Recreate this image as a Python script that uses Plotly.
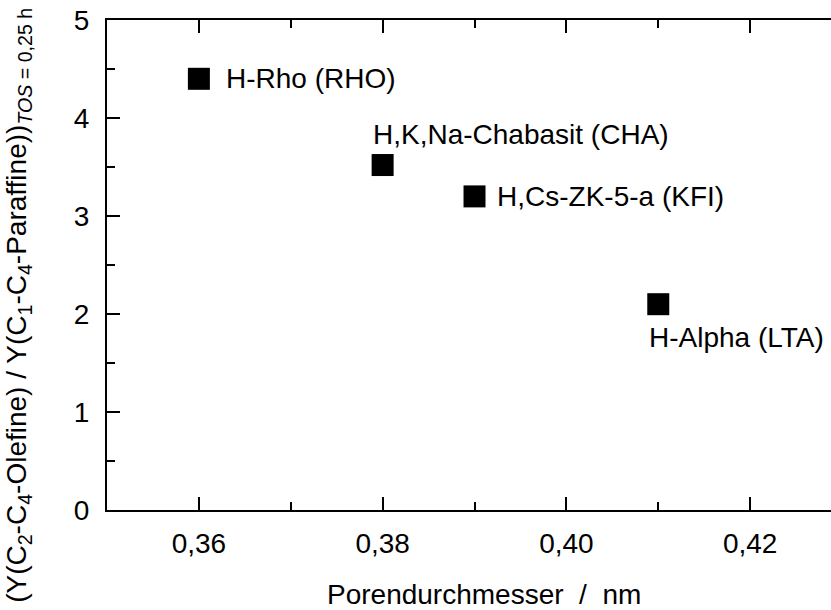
import plotly.graph_objects as go

# Data
pore_diameter = [0.36, 0.38, 0.39, 0.41]
ratio = [4.40, 3.52, 3.20, 2.10]
labels = ["H-Rho (RHO)", "H,K,Na-Chabasit (CHA)", "H,Cs-ZK-5-a (KFI)", "H-Alpha (LTA)"]
x_ticks = [0.36, 0.38, 0.40, 0.42]
y_ticks = [0, 1, 2, 3, 4, 5]

FONT = "Liberation Sans, Arial, sans-serif"
TICK_SIZE = 28
TEXT_SIZE = 28

fig = go.Figure()
fig.add_trace(go.Scatter(
    x=pore_diameter, y=ratio, mode="markers",
    marker=dict(symbol="square", size=22, color="black", line=dict(width=0)),
    showlegend=False, hoverinfo="x+y",
))

# label placement (style only)
placement = [
    dict(xanchor="left", yanchor="middle", xshift=25, yshift=0),
    dict(xanchor="left", yanchor="middle", xshift=-12, yshift=31),
    dict(xanchor="left", yanchor="middle", xshift=20, yshift=0),
    dict(xanchor="left", yanchor="middle", xshift=-11, yshift=-33),
]
for xv, yv, txt, pl in zip(pore_diameter, ratio, labels, placement):
    fig.add_annotation(x=xv, y=yv, xref="x", yref="y", text=txt, showarrow=False,
                       font=dict(family=FONT, size=TEXT_SIZE, color="black"), **pl)

# axis titles as annotations
fig.add_annotation(xref="paper", yref="paper", x=0.5207, y=-0.173,
                   text="Porendurchmesser\u00a0\u00a0/\u00a0\u00a0nm", showarrow=False,
                   xanchor="center", yanchor="middle",
                   font=dict(family=FONT, size=TEXT_SIZE, color="black"))
fig.add_annotation(xref="paper", yref="paper", x=-0.122, y=0.418,
                   text="(Y(C<sub>2</sub>-C<sub>4</sub>-Olefine) / Y(C<sub>1</sub>-C<sub>4</sub>-Paraffine))<sub><i>TOS</i> = 0,25 h</sub>",
                   textangle=-90, showarrow=False, xanchor="center", yanchor="middle",
                   font=dict(family=FONT, size=TEXT_SIZE, color="black"))

axis_common = dict(
    showgrid=False, zeroline=False, showline=True, linecolor="black", linewidth=2,
    ticks="inside", ticklen=13, tickwidth=2, tickcolor="black",
    tickfont=dict(family=FONT, size=TICK_SIZE, color="black"),
)
fig.update_xaxes(range=[0.35, 0.4288], tickvals=x_ticks, tickformat=".2f",
                 minor=dict(dtick=0.01, tick0=0.35, ticks="inside", ticklen=8, tickwidth=2, tickcolor="black"),
                 mirror="ticks", ticklabelstandoff=7, **axis_common)
fig.update_yaxes(range=[0, 5], tickvals=y_ticks,
                 minor=dict(dtick=0.5, tick0=0, ticks="inside", ticklen=8, tickwidth=2, tickcolor="black"),
                 mirror=False, ticklabelstandoff=10, **axis_common)

fig.update_layout(
    width=831, height=610, separators=",.",
    margin=dict(l=107, r=0, t=20, b=100),
    plot_bgcolor="white", paper_bgcolor="white",
    font=dict(family=FONT, color="black"),
)
fig.write_html("out.html")
